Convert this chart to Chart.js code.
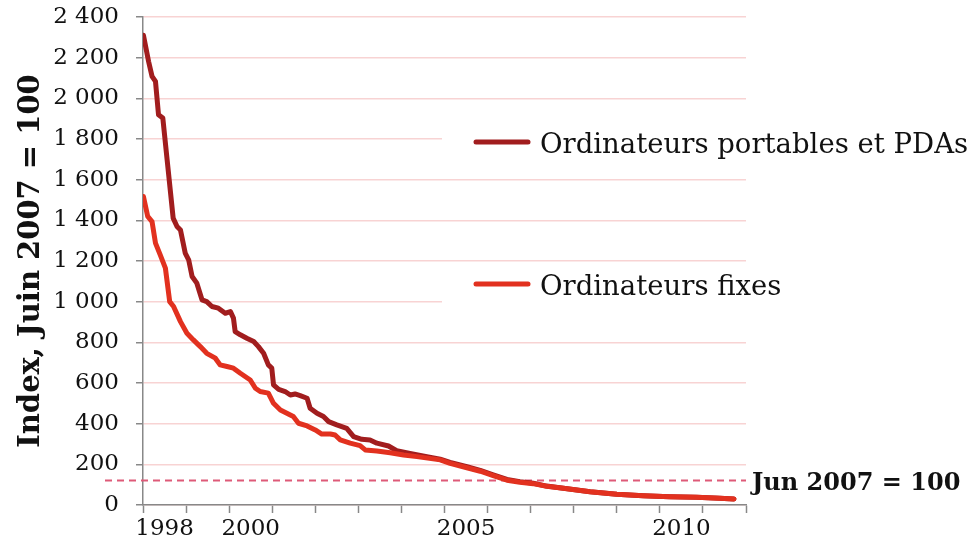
<!DOCTYPE html>
<html>
<head>
<meta charset="utf-8">
<script src="https://cdn.jsdelivr.net/npm/chart.js@4"></script>
<style>
    body { margin: 0; background: #fff; }
    #wrap { width: 973px; height: 543px; position: relative; }
</style>
</head>
<body>
<div id="wrap"><canvas id="graph1"></canvas></div>
<script>

// ordinateurs portables et PDAs (x = année décimale)
const portables_x = [
    1998.01, 1998.13, 1998.21, 1998.29, 1998.36, 1998.46, 1998.56, 1998.70, 1998.79, 1998.87,
    1998.98, 1999.06, 1999.14, 1999.25, 1999.37, 1999.48, 1999.60, 1999.75, 1999.91, 2000.03,
    2000.10, 2000.14, 2000.26, 2000.41, 2000.57, 2000.68, 2000.80, 2000.91, 2000.99, 2001.03,
    2001.15, 2001.30, 2001.42, 2001.53, 2001.65, 2001.81, 2001.88, 2002.04, 2002.19, 2002.31,
    2002.50, 2002.73, 2002.89, 2003.08, 2003.27, 2003.43, 2003.70, 2003.89, 2004.20, 2004.59,
    2004.90, 2005.13, 2005.52, 2005.83, 2006.13, 2006.45, 2006.75, 2007.06, 2007.37, 2007.76,
    2008.38, 2009.00, 2009.61, 2010.23, 2010.85, 2011.39, 2011.72
];
const portables_y = [
    2310, 2181, 2108, 2083, 1919, 1903, 1698, 1411, 1370, 1353,
    1239, 1206, 1124, 1091, 1009, 1000, 976, 968, 943, 951,
    919, 853, 837, 820, 804, 779, 746, 689, 673, 591,
    569, 558, 541, 546, 538, 525, 476, 451, 435, 410,
    394, 377, 336, 323, 320, 304, 290, 267, 254, 238,
    225, 210, 188, 170, 148, 126, 115, 107, 93, 82,
    65, 53, 46, 41, 38, 33, 30
];

// ordinateurs fixes
const fixes_x = [
    1998.01, 1998.11, 1998.21, 1998.29, 1998.40, 1998.52, 1998.62, 1998.71, 1998.87, 1999.02,
    1999.17, 1999.33, 1999.48, 1999.68, 1999.79, 1999.95, 2000.10, 2000.26, 2000.49, 2000.61,
    2000.72, 2000.91, 2001.03, 2001.19, 2001.34, 2001.49, 2001.61, 2001.81, 2002.00, 2002.15,
    2002.35, 2002.46, 2002.58, 2002.81, 2003.04, 2003.16, 2003.43, 2003.74, 2004.05, 2004.36,
    2004.90, 2005.13, 2005.52, 2005.83, 2006.13, 2006.45, 2006.75, 2007.06, 2007.37, 2007.76,
    2008.38, 2009.00, 2009.61, 2010.23, 2010.85, 2011.39, 2011.72
];
const fixes_y = [
    1517, 1419, 1394, 1288, 1230, 1165, 1000, 976, 902, 845,
    812, 779, 746, 722, 689, 681, 673, 648, 615, 574,
    558, 550, 500, 467, 451, 435, 402, 389, 369, 349,
    349, 344, 320, 304, 292, 271, 266, 257, 246, 238,
    222, 205, 183, 166, 145, 122, 112, 105, 92, 82,
    65, 53, 46, 41, 38, 33, 30
];

const series_names  = ["Ordinateurs portables et PDAs", "Ordinateurs fixes"];
const series_colors = ["#a11d1e", "#e2311f"];

const y_ticks       = [0, 200, 400, 600, 800, 1000, 1200, 1400, 1600, 1800, 2000, 2200, 2400];
const x_years       = [1998, 1999, 2000, 2001, 2002, 2003, 2004, 2005, 2006, 2007, 2008, 2009, 2010, 2011, 2012];
const x_label_years = [1998, 2000, 2005, 2010];

const ref_value = 120;
const ref_label = "Jun 2007 = 100";
const y_title   = "Index, Juin 2007 = 100";

const FONT = "'DejaVu Serif', Georgia, serif";


window.addEventListener("load", function () {
    draw_line();
});


function to_points(xs, ys) {
    let pts = [];
    for (let i = 0; i < xs.length; i++) {
        pts.push({ x: xs[i], y: ys[i] });
    }
    return pts;
}


// ligne de référence pointillée + légende dessinée à la main
const extras = {
    id: "extras",
    beforeDatasetsDraw(chart) {
        const ctx  = chart.ctx;
        const area = chart.chartArea;
        const ys   = chart.scales.y;

        ctx.save();
        // boîtes blanches de la légende (cachent le quadrillage)
        ctx.fillStyle = "#fff";
        ctx.fillRect(442, 124, 531, 36);
        ctx.fillRect(442, 266, 531, 40);

        // ligne Jun 2007
        const yr = ys.getPixelForValue(ref_value);
        ctx.strokeStyle = "#de5a78";
        ctx.lineWidth = 2;
        ctx.setLineDash([7, 5]);
        ctx.beginPath();
        ctx.moveTo(area.left - 38, yr);
        ctx.lineTo(area.right, yr);
        ctx.stroke();
        ctx.setLineDash([]);

        ctx.fillStyle = "#111";
        ctx.font = "bold 24px " + FONT;
        ctx.textAlign = "left";
        ctx.textBaseline = "middle";
        ctx.fillText(ref_label, area.right + 6, yr + 3);

        // légende
        const rows = [142, 284];
        ctx.lineCap = "round";
        ctx.lineWidth = 5;
        ctx.font = "27.5px " + FONT;
        for (let i = 0; i < series_names.length; i++) {
            ctx.strokeStyle = series_colors[i];
            ctx.beginPath();
            ctx.moveTo(476, rows[i]);
            ctx.lineTo(528, rows[i]);
            ctx.stroke();
            ctx.fillStyle = "#111";
            ctx.fillText(series_names[i], 540, rows[i] + 4);
        }
        ctx.restore();
    }
};


function draw_line() {

    const ctx = document.getElementById("graph1").getContext("2d");
    const myChart = new Chart(ctx, {
        type: "line",
        data: {
            datasets: [
                {
                    label: series_names[0],
                    data: to_points(portables_x, portables_y),
                    borderColor: series_colors[0],
                    backgroundColor: series_colors[0],
                    borderWidth: 5,
                    pointRadius: 0,
                    tension: 0,
                    borderJoinStyle: "round",
                    borderCapStyle: "round",
                    order: 1,
                },
                {
                    label: series_names[1],
                    data: to_points(fixes_x, fixes_y),
                    borderColor: series_colors[1],
                    backgroundColor: series_colors[1],
                    borderWidth: 5,
                    pointRadius: 0,
                    tension: 0,
                    borderJoinStyle: "round",
                    borderCapStyle: "round",
                    order: 0,
                },
            ]
        },
        options: {
            responsive: true,
            maintainAspectRatio: false,
            animation: false,
            layout: {
                padding: { top: 17, right: 227, bottom: 0, left: 0 }
            },
            plugins: {
                legend: { display: false },
                tooltip: { enabled: false },
            },
            scales: {
                x: {
                    type: "linear",
                    min: x_years[0],
                    max: x_years[x_years.length - 1],
                    afterBuildTicks: function (scale) {
                        // graduations à chaque année, étiquettes au milieu de l'année
                        let t = [];
                        for (let y of x_years) {
                            t.push({ value: y });
                            if (y < x_years[x_years.length - 1]) t.push({ value: y + 0.5 });
                        }
                        scale.ticks = t;
                    },
                    afterFit: function (scale) {
                        scale.height = 38;
                    },
                    ticks: {
                        autoSkip: false,
                        maxRotation: 0,
                        padding: 2,
                        color: "#111",
                        font: { family: FONT, size: 23 },
                        callback: function (value) {
                            const y = Math.floor(value);
                            if (value - y === 0.5 && x_label_years.includes(y)) return String(y);
                            return "";
                        }
                    },
                    grid: {
                        drawOnChartArea: false,
                        drawTicks: true,
                        tickLength: 8,
                        tickWidth: 1.5,
                        tickColor: function (c) {
                            return (c.tick && Number.isInteger(c.tick.value)) ? "#888" : "rgba(0,0,0,0)";
                        },
                    },
                    border: { color: "#888", width: 1.5 },
                },
                y: {
                    min: 0,
                    max: 2400,
                    afterBuildTicks: function (scale) {
                        scale.ticks = y_ticks.map(v => ({ value: v }));
                    },
                    afterFit: function (scale) {
                        scale.width = 143;
                        scale.paddingTop = 0;
                        scale.paddingBottom = 0;
                    },
                    ticks: {
                        padding: 17,
                        color: "#111",
                        font: { family: FONT, size: 23 },
                        callback: function (value) {
                            if (value >= 1000) {
                                return Math.floor(value / 1000) + " " + String(value % 1000).padStart(3, "0");
                            }
                            return String(value);
                        }
                    },
                    grid: {
                        color: "#f8d3d3",
                        lineWidth: 1.5,
                        tickLength: 7,
                        tickColor: "#888",
                        tickWidth: 1.5,
                    },
                    border: { color: "#888", width: 1.5 },
                    title: {
                        display: true,
                        text: y_title,
                        color: "#111",
                        font: { family: FONT, size: 29, weight: "bold" },
                        padding: { top: 14, bottom: 0 },
                    },
                }
            }
        },
        plugins: [extras]
    });
}

</script>
</body>
</html>
